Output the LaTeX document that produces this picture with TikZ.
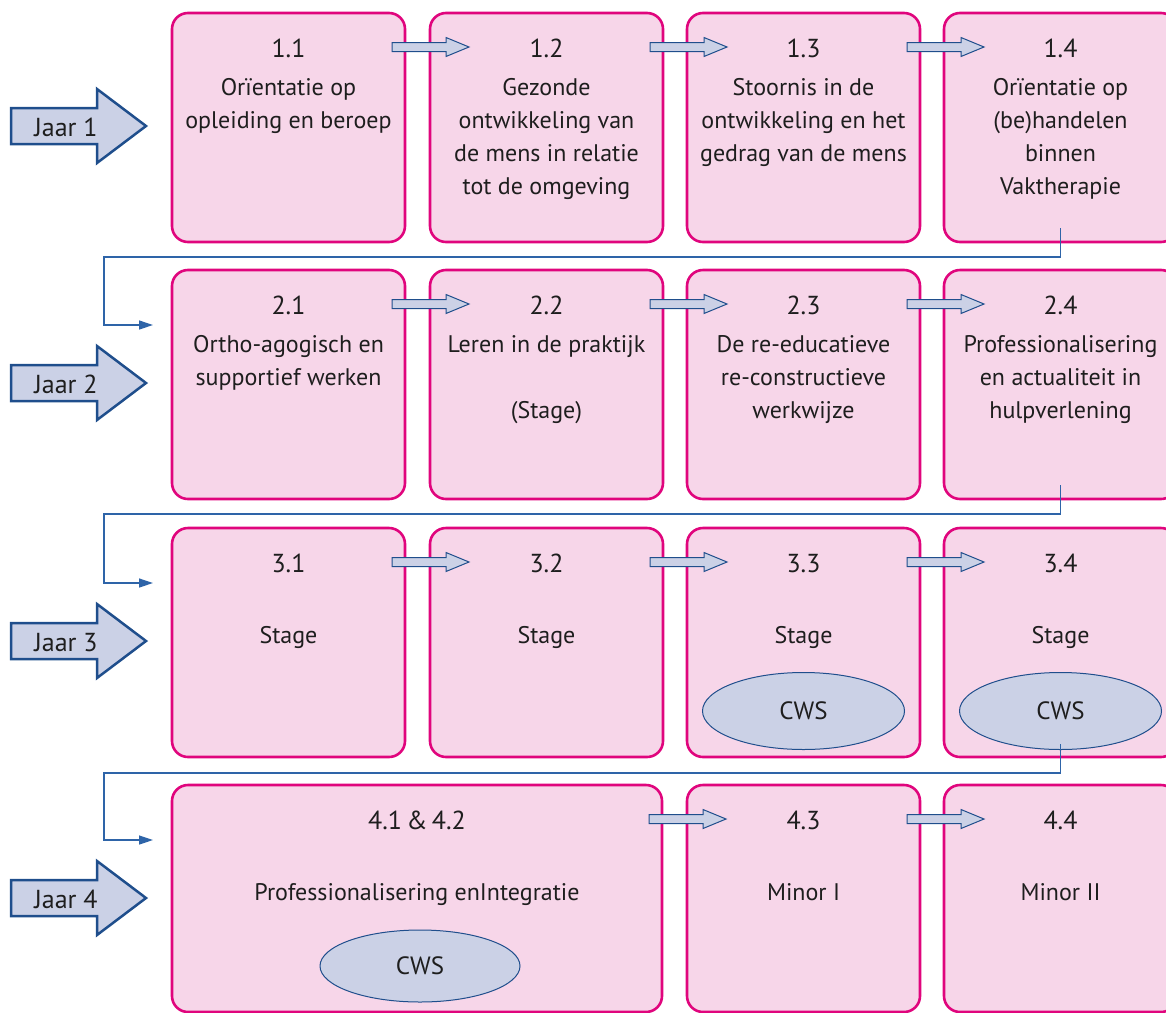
\documentclass[tikz,border=0pt]{standalone}
\usepackage{fontspec}
\setmainfont{PT Sans}
\usetikzlibrary{shapes.geometric,arrows.meta,calc}
\definecolor{boxfill}{HTML}{F7D6E9}
\definecolor{boxline}{HTML}{E0057D}
\definecolor{arrfill}{HTML}{CBD1E6}
\definecolor{arrline}{HTML}{1F4E8C}
\definecolor{connline}{HTML}{2E64A8}
\definecolor{txt}{HTML}{1E1E1E}
\newcommand\boxlabels[3]{%
  \node[lbl, font=\fontsize{26}{30}\selectfont] (#1-n) at ($(#1.north)+(0,44)$) {#2};
  \foreach \t [count=\i] in {#3} {\node[lbl] (#1-\i) at ($(#1.north)+(0,49+33*\i)$) {\t};}
}
\newcommand\jaararrow[3]{% #1 name, #2 centre y, #3 text
  \path[bigarrow] (11,#2-18) -- (97,#2-18) -- (97,#2-37) -- (146,#2) -- (97,#2+37) -- (97,#2+18) -- (11,#2+18) -- cycle;
  \node[lbl, font=\fontsize{26}{30}\selectfont] (#1) at (66,#2+10) {#3};
}
\begin{document}
\begin{tikzpicture}[x=1pt,y=-1pt,
  box/.style={draw=boxline, fill=boxfill, line width=2.6pt, rounded corners=16pt,
    minimum width=233pt, minimum height=229pt, anchor=north west, inner sep=0pt, outer sep=0pt},
  lbl/.style={anchor=base, inner sep=0pt, text=txt, font=\fontsize{24}{29}\selectfont},
  cws/.style={ellipse, draw=arrline, line width=1pt, fill=arrfill, minimum width=202pt,
    minimum height=77pt, inner sep=0pt, text=txt, font=\fontsize{25}{29}\selectfont},
  bigarrow/.style={draw=arrline, fill=arrfill, line width=2.5pt, line join=miter},
  smallarrow/.style={draw=arrline, fill=arrfill, line width=1pt},
  conn/.style={draw=connline, line width=1.3pt, -{Triangle[length=14pt,width=9pt]}},
  sarrow/.pic={\path[smallarrow] (0,-4.5) -- (54,-4.5) -- (54,-9.5) -- (77,0) -- (54,9.5) -- (54,4.5) -- (0,4.5) -- cycle;}
]
\useasboundingbox (0,0) rectangle (1166,1012);

% boxes
\node[box] (b11) at (172,13) {};
\node[box] (b12) at (430,13) {};
\node[box] (b13) at (687,13) {};
\node[box] (b14) at (944,13) {};
\node[box] (b21) at (172,270) {};
\node[box] (b22) at (430,270) {};
\node[box] (b23) at (687,270) {};
\node[box] (b24) at (944,270) {};
\node[box] (b31) at (172,528) {};
\node[box] (b32) at (430,528) {};
\node[box] (b33) at (687,528) {};
\node[box] (b34) at (944,528) {};
\node[box, minimum width=490pt, minimum height=227pt] (b41) at (172,785) {};
\node[box, minimum height=227pt] (b43) at (687,785) {};
\node[box, minimum height=227pt] (b44) at (944,785) {};

% labels
\boxlabels{b11}{1.1}{Orïentatie op, opleiding en beroep}
\boxlabels{b12}{1.2}{Gezonde, ontwikkeling van, de mens in relatie, tot de omgeving}
\boxlabels{b13}{1.3}{Stoornis in de, ontwikkeling en het, gedrag van de mens}
\boxlabels{b14}{1.4}{Orïentatie op, (be)handelen, binnen, Vaktherapie}
\boxlabels{b21}{2.1}{Ortho-agogisch en, supportief werken}
\boxlabels{b22}{2.2}{Leren in de praktijk, , (Stage)}
\boxlabels{b23}{2.3}{De re-educatieve, re-constructieve, werkwijze}
\boxlabels{b24}{2.4}{Professionalisering, en actualiteit in, hulpverlening}
\boxlabels{b31}{3.1}{, Stage}
\boxlabels{b32}{3.2}{, Stage}
\boxlabels{b33}{3.3}{, Stage}
\boxlabels{b34}{3.4}{, Stage}
\boxlabels{b41}{4.1\,\&\,4.2}{, Professionalisering enIntegratie}
\boxlabels{b43}{4.3}{, Minor I}
\boxlabels{b44}{4.4}{, Minor II}

% CWS ellipses
\node[cws] (c33) at ($(b33.north)+(0,183)$) {CWS};
\node[cws] (c34) at ($(b34.north)+(0,183)$) {CWS};
\node[cws, minimum width=200pt, minimum height=72pt] (c41) at ($(b41.north)+(3,181)$) {CWS};

% small arrows between boxes
\foreach \b in {b11,b12,b13,b21,b22,b23,b31,b32,b33,b41,b43}
  \pic at ($(\b.north east)+(-13,34)$) {sarrow};

% year arrows
\jaararrow{j1}{126}{Jaar 1}
\jaararrow{j2}{383}{Jaar 2}
\jaararrow{j3}{641}{Jaar 3}
\jaararrow{j4}{898}{Jaar 4}

% connectors between rows
\coordinate (e2) at ($(b21.north west)+(-19,55)$);
\coordinate (e3) at ($(b31.north west)+(-19,55)$);
\coordinate (e4) at ($(b41.north west)+(-19,55)$);
\draw[conn] ([yshift=14pt]b14.south) -- ++(0,29) -| ($(e2)+(-49,0)$) -- (e2);
\draw[conn] ([yshift=14pt]b24.south) -- ++(0,29) -| ($(e3)+(-49,0)$) -- (e3);
\draw[conn] ([yshift=6pt]c34.south) -- ++(0,29) -| ($(e4)+(-49,0)$) -- (e4);
\end{tikzpicture}
\end{document}
